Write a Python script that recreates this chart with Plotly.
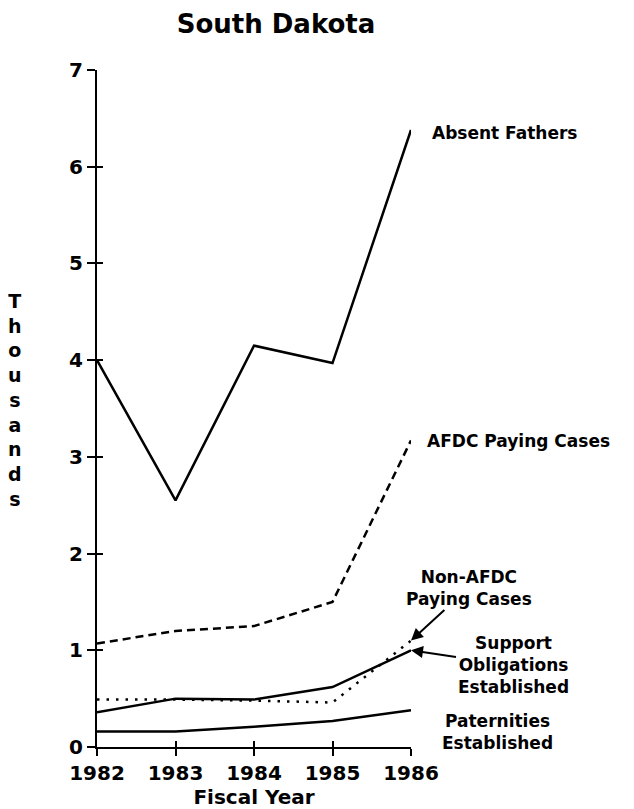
import plotly.graph_objects as go

# Fiscal years and values (thousands)
years = [1982, 1983, 1984, 1985, 1986]
absent_fathers = [4.0, 2.55, 4.15, 3.97, 6.38]
afdc_paying = [1.07, 1.2, 1.25, 1.5, 3.17]
non_afdc_paying = [0.49, 0.49, 0.48, 0.46, 1.1]
support_obligations = [0.36, 0.5, 0.49, 0.62, 1.0]
paternities = [0.16, 0.16, 0.21, 0.27, 0.38]

y_ticks = [0, 1, 2, 3, 4, 5, 6, 7]

FONT = "DejaVu Sans"
ink = "black"

fig = go.Figure()

def add_line(y, dash, width=2.5):
    fig.add_trace(go.Scatter(x=years, y=y, mode="lines",
                             line=dict(color=ink, width=width, dash=dash),
                             cliponaxis=False, showlegend=False,
                             hoverinfo="skip"))

add_line(absent_fathers, "solid")
add_line(afdc_paying, "8px,5px")
add_line(non_afdc_paying, "2.5px,7px")
add_line(support_obligations, "solid")
add_line(paternities, "solid")

# transparent copy on the overlay axes so their inside ticks get drawn
fig.add_trace(go.Scatter(x=years, y=paternities, xaxis="x2", yaxis="y2",
                         mode="lines", line=dict(color="rgba(0,0,0,0)"),
                         showlegend=False, hoverinfo="skip"))

lab = dict(family=FONT, size=17, color=ink)

def label(text, x, y, xref="paper", yref="paper", xanchor="left", **kw):
    fig.add_annotation(text="<b>%s</b>" % text, x=x, y=y, xref=xref, yref=yref,
                       xanchor=xanchor, yanchor="middle", font=lab,
                       align="center", **kw)

label("Absent Fathers", 1.06, 0.907, showarrow=False)
label("AFDC Paying Cases", 1.045, 0.452, showarrow=False)
label("Paternities<br>Established", 1.274, 0.022, xanchor="center",
      showarrow=False)
# arrows point at the 1986 ends of the two low series
label("Non-AFDC<br>Paying Cases", 1986, non_afdc_paying[-1], xref="x", yref="y",
      xanchor="center", showarrow=True, ax=58, ay=-53, arrowhead=2,
      arrowsize=1.2, arrowwidth=2, arrowcolor=ink)
label("Support<br>Obligations<br>Established", 1986, support_obligations[-1],
      xref="x", yref="y", xanchor="center", showarrow=True, ax=102, ay=15,
      arrowhead=2, arrowsize=1.2, arrowwidth=2, arrowcolor=ink)

# vertical stacked axis title
fig.add_annotation(text="<br>".join("<b>%s</b>" % c for c in "Thousands"),
                   xref="paper", yref="paper", x=-0.26, y=0.513,
                   showarrow=False, font=dict(family=FONT, size=19, color=ink),
                   xanchor="center", yanchor="middle")

tick_style = dict(tickwidth=2, tickcolor=ink, showgrid=False, zeroline=False,
                  automargin=False)

# the page body adds an 8px margin, so the figure is 8px smaller each way
fig.update_layout(
    width=626, height=801,
    margin=dict(l=89, r=223, t=62, b=62, autoexpand=False),
    paper_bgcolor="white", plot_bgcolor="white",
    title=dict(text="<b>South Dakota</b>", x=268 / 626, xanchor="center",
               y=1 - 16 / 801, yanchor="middle", automargin=False,
               font=dict(family=FONT, size=26, color=ink)),
    xaxis=dict(range=[1982, 1986], tickvals=years,
               ticktext=["<b>%d</b>" % v for v in years],
               showline=True, linecolor=ink, linewidth=2,
               ticks="outside", ticklen=7,
               tickfont=dict(family=FONT, size=20, color=ink),
               title=dict(text="<b>Fiscal Year</b>", standoff=6,
                          font=dict(family=FONT, size=20, color=ink)),
               **tick_style),
    yaxis=dict(range=[0, 7], tickvals=y_ticks,
               ticktext=["<b>%d</b>" % v for v in y_ticks],
               showline=True, linecolor=ink, linewidth=2,
               ticks="outside", ticklen=8,
               tickfont=dict(family=FONT, size=20, color=ink),
               **tick_style),
    # inside halves of the crossing tick marks
    xaxis2=dict(range=[1982, 1986], tickvals=years, overlaying="x",
                anchor="y", side="bottom", ticks="inside", ticklen=6,
                showticklabels=False, showline=False, **tick_style),
    yaxis2=dict(range=[0, 7], tickvals=y_ticks, overlaying="y",
                anchor="x", side="left", ticks="inside", ticklen=6,
                showticklabels=False, showline=False, **tick_style),
)

fig.write_html("out.html")
